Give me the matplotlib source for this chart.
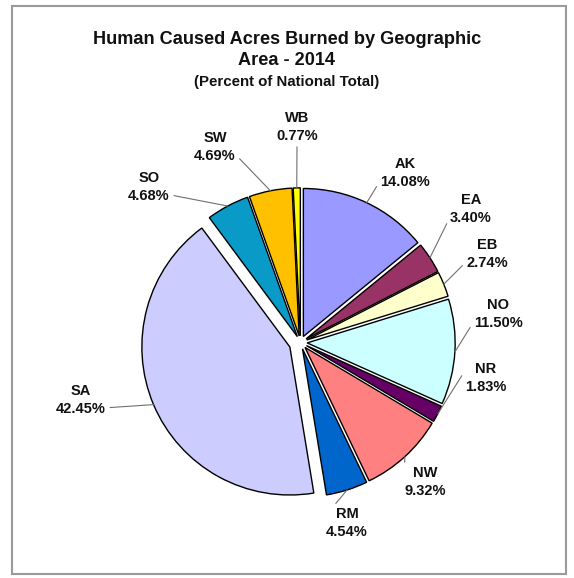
import numpy as np
import matplotlib
matplotlib.use("Agg")
import matplotlib.pyplot as plt
from matplotlib.patches import Rectangle

# data (clockwise from 12 o'clock)
AREAS = ["AK", "EA", "EB", "NO", "NR", "NW", "RM", "SA", "SO", "SW", "WB"]
PCTS = [14.08, 3.40, 2.74, 11.50, 1.83, 9.32, 4.54, 42.45, 4.68, 4.69, 0.77]
COLORS = ["#9999FF", "#993366", "#FFFFCC", "#CCFFFF", "#660066", "#FF8080",
          "#0066CC", "#CCCCFF", "#0A9AC8", "#FFC000", "#FFFF00"]

# label layout in pixels from the top-left corner, and where the leader leaves the text
LABEL_PX = {"AK": (405, 173), "EA": (471, 209), "EB": (487, 254), "NO": (498, 314),
            "NR": (486, 378), "NW": (425, 482), "RM": (347, 523), "SA": (81, 400),
            "SO": (149, 187), "SW": (215, 147), "WB": (297, 127)}
RELPOS = {"AK": (0.0, 0.25), "EA": (0.0, 0.25), "EB": (0.0, 0.25), "NO": (0.0, 0.25),
          "NR": (0.0, 0.75), "NW": (0.0, 0.75), "RM": (0.0, 0.75), "SA": (1.0, 0.25),
          "SO": (1.0, 0.25), "SW": (1.0, 0.25), "WB": (0.5, 0.0)}

plt.rcParams["font.family"] = ["Liberation Sans", "DejaVu Sans"]

W, H = 574, 578
fig = plt.figure(figsize=(W / 100, H / 100), dpi=100)
ax = fig.add_axes([0, 0, 1, 1])

explode = [0.078 if a == "SA" else 0.045 for a in AREAS]
wedges, _ = ax.pie(PCTS, colors=COLORS, startangle=90, counterclock=False,
                   explode=explode, radius=1.0,
                   wedgeprops=dict(edgecolor="black", linewidth=1.0))

# pie centre at (300.5, 342.5) px, radius 148 px
s, cx0, cy0 = 148.0, 300.5, 342.5
ax.set_xlim(-cx0 / s, (W - cx0) / s)
ax.set_ylim(-(H - cy0) / s, cy0 / s)
ax.set_aspect("equal")
ax.axis("off")

for w, name, p in zip(wedges, AREAS, PCTS):
    th = np.deg2rad((w.theta1 + w.theta2) / 2)
    cx, cy = w.center
    edge = (cx + w.r * np.cos(th), cy + w.r * np.sin(th))
    px, py = LABEL_PX[name]
    ax.annotate(f"{name}\n{p:.2f}%", xy=edge, xytext=((px - cx0) / s, (cy0 - py) / s),
                ha="center", va="center", fontsize=10.5, fontweight="bold",
                color="#111111", linespacing=1.3,
                arrowprops=dict(arrowstyle="-", color="#707070", lw=0.8,
                                shrinkA=1, shrinkB=0, relpos=RELPOS[name]))

fig.text(0.5, 1 - 50 / H, "Human Caused Acres Burned by Geographic\nArea - 2014",
         ha="center", va="center", fontsize=13.1, fontweight="bold",
         linespacing=1.35, color="#111111")
fig.text(0.5, 1 - 82 / H, "(Percent of National Total)", ha="center", va="center",
         fontsize=10.8, fontweight="bold", color="#111111")

fig.patches.append(Rectangle((12 / W, 4 / H), 554 / W, 568 / H,
                             transform=fig.transFigure, fill=False,
                             edgecolor="#9A9A9A", linewidth=1.5))

fig.savefig("out.png", dpi=100)
